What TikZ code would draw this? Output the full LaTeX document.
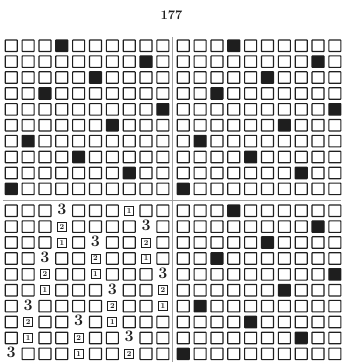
\documentclass[tikz,border=0pt]{standalone}
\definecolor{ink}{HTML}{1E1E1E}
\begin{document}
\begin{tikzpicture}[x=1pt,y=-1pt,
  sq/.style={draw=ink, line width=1.15pt, minimum width=12pt, minimum height=11.5pt, inner sep=0pt, rounded corners=0.5pt},
  blk/.style={sq, fill=ink},
  three/.style={font=\fontsize{16}{16}\selectfont\bfseries, inner sep=0pt, text=ink},
  boxd/.style={draw=ink, line width=0.8pt, minimum size=9pt, inner sep=0pt, font=\fontsize{7.5}{7.5}\selectfont\bfseries, text=ink},
  divider/.style={draw=gray!75, line width=0.6pt}]
\useasboundingbox (0,0) rectangle (343,362);
\node[font=\fontsize{13}{13}\selectfont\bfseries, text=ink] (page) at (171.5,15) {177};
% dividers
\coordinate (vtop) at (172.5,37);
\coordinate (vbot) at (172.5,362);
\coordinate (hl) at (3,200);
\coordinate (hr) at (341,200);
\draw[divider] (vtop) -- (vbot);
\draw[divider] (hl) -- (hr);
% three quadrants with black squares
\foreach \q/\xo/\yo in {TL/11.25/45.75, TR/183.25/45.75, BR/183.25/210.75} {
  \foreach \b [count=\r] in {4,9,6,3,10,7,2,5,8,1} {
    \foreach \c in {1,...,10} {
      \ifnum\c=\b\relax
        \node[blk] (\q-\r-\c) at ({\xo+(\c-1)*16.85},{\yo+(\r-1)*15.9}) {};
      \else
        \node[sq] (\q-\r-\c) at ({\xo+(\c-1)*16.85},{\yo+(\r-1)*15.9}) {};
      \fi
    }
  }
}
% bottom-left quadrant with numbers
\foreach \row [count=\r] in {
  {0,0,0,3,0,0,0,1,0,0},
  {0,0,0,2,0,0,0,0,3,0},
  {0,0,0,1,0,3,0,0,2,0},
  {0,0,3,0,0,2,0,0,1,0},
  {0,0,2,0,0,1,0,0,0,3},
  {0,0,1,0,0,0,3,0,0,2},
  {0,3,0,0,0,0,2,0,0,1},
  {0,2,0,0,3,0,1,0,0,0},
  {0,1,0,0,2,0,0,3,0,0},
  {3,0,0,0,1,0,0,2,0,0}} {
  \foreach \v [count=\c] in \row {
    \ifcase\v\relax
      \node[sq] (BL-\r-\c) at ({11.25+(\c-1)*16.85},{210.75+(\r-1)*15.9}) {};
    \or
      \node[boxd] (BL-\r-\c) at ({11.25+(\c-1)*16.85},{210.75+(\r-1)*15.9}) {1};
    \or
      \node[boxd] (BL-\r-\c) at ({11.25+(\c-1)*16.85},{210.75+(\r-1)*15.9}) {2};
    \or
      \node[three] (BL-\r-\c) at ({11.25+(\c-1)*16.85},{209.5+(\r-1)*15.9}) {3};
    \fi
  }
}
\end{tikzpicture}
\end{document}
